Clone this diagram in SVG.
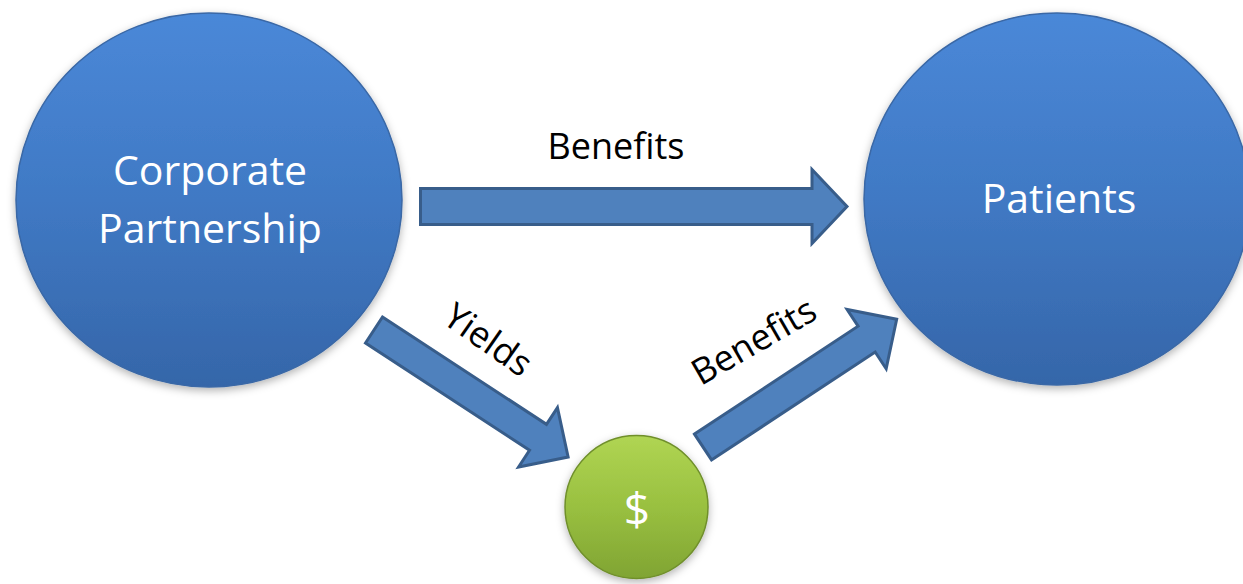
<svg xmlns="http://www.w3.org/2000/svg" width="1243" height="584" viewBox="0 0 1243 584">
  <style>
    .lbl { font-family: "Open Sans", "Liberation Sans", sans-serif; fill: #000000; font-size: 36px; text-anchor: middle; }
    .ntxt { font-family: "Open Sans", "Liberation Sans", sans-serif; fill: #ffffff; font-size: 41px; text-anchor: middle; }
    .arrow { fill: #4f81bd; stroke: #385d8a; stroke-width: 3; stroke-linejoin: miter; }
    .blue { fill: url(#gBlue); stroke: #3a68a6; stroke-width: 1.5; filter: url(#shadow); }
    .green { fill: url(#gGreen); stroke: #6f8f2b; stroke-width: 1.5; filter: url(#shadow); }
  </style>
  <defs>
    <linearGradient id="gBlue" x1="0" y1="0" x2="0" y2="1">
      <stop offset="0" stop-color="#4a88d8"/>
      <stop offset="0.5" stop-color="#4079c4"/>
      <stop offset="1" stop-color="#3566a9"/>
    </linearGradient>
    <linearGradient id="gGreen" x1="0" y1="0" x2="0" y2="1">
      <stop offset="0" stop-color="#b0d553"/>
      <stop offset="0.5" stop-color="#99c040"/>
      <stop offset="1" stop-color="#80a433"/>
    </linearGradient>
    <filter id="shadow" x="-10%" y="-10%" width="120%" height="125%">
      <feDropShadow dx="0" dy="3" stdDeviation="4" flood-color="#000000" flood-opacity="0.3"/>
    </filter>
  </defs>
  <rect width="1243" height="584" fill="#ffffff"/>

  <g id="connectors">
    <path class="arrow" d="M420.5,188.5 H812 V169.5 L847,206.5 L812,243.5 V224.5 H420.5 Z"/>
    <path class="arrow" transform="translate(374,330) rotate(33.2)" d="M0,-15.5 H196 V-35.5 L232,0 L196,35.5 V15.5 H0 Z"/>
    <path class="arrow" transform="translate(703,447) rotate(-33.4)" d="M0,-15.5 H196 V-35.5 L232,0 L196,35.5 V15.5 H0 Z"/>
    <text class="lbl" x="616" y="159">Benefits</text>
    <text class="lbl" transform="translate(481,350) rotate(35)" x="0" y="0">Yields</text>
    <text class="lbl" transform="translate(760,352) rotate(-30)" x="0" y="0">Benefits</text>
  </g>

  <g id="node-corporate">
    <ellipse class="blue" cx="209" cy="200" rx="193" ry="187"/>
    <text class="ntxt" x="210" y="185">Corporate</text>
    <text class="ntxt" x="210" y="243">Partnership</text>
  </g>

  <g id="node-patients">
    <ellipse class="blue" cx="1057" cy="199" rx="193" ry="186"/>
    <text class="ntxt" x="1059" y="213">Patients</text>
  </g>

  <g id="node-money">
    <circle class="green" cx="636.5" cy="507" r="71.5"/>
    <text class="ntxt" x="637" y="526" style="font-size:46px">$</text>
  </g>
</svg>
